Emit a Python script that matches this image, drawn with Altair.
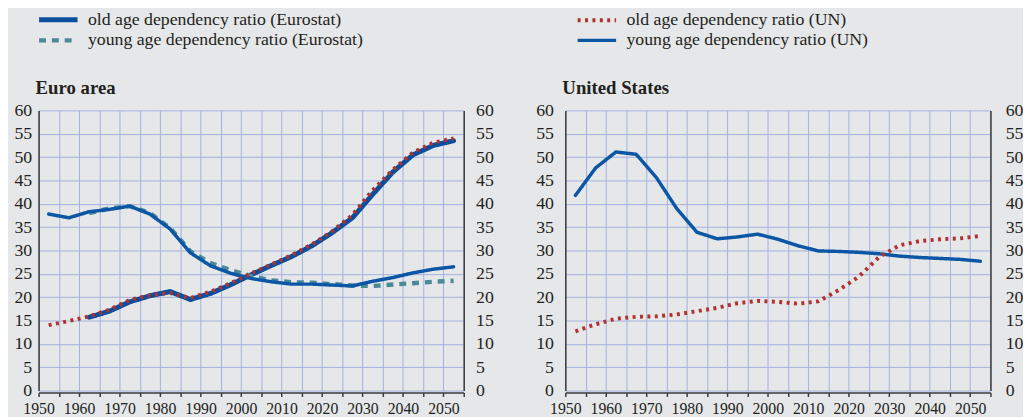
import altair as alt
import pandas as pd

# period mid-points (five-year periods 1950-1955 ... 2050-2055)
years = [1952.5, 1957.5, 1962.5, 1967.5, 1972.5, 1977.5, 1982.5, 1987.5, 1992.5, 1997.5,
         2002.5, 2007.5, 2012.5, 2017.5, 2022.5, 2027.5, 2032.5, 2037.5, 2042.5, 2047.5, 2052.5]

ea_old_eurostat = [None, None, 15.7, 17.0, 19.0, 20.3, 21.2, 19.5, 20.8, 22.7, 24.8, 26.8,
                   28.7, 31.0, 33.8, 37.0, 42.0, 46.8, 50.5, 52.5, 53.5]
ea_old_un = [14.0, 14.9, 15.9, 17.3, 19.4, 20.4, 20.9, 19.8, 21.2, 23.0, 25.1, 27.0,
             29.0, 31.3, 34.1, 37.6, 42.9, 47.3, 51.0, 53.1, 54.0]
ea_young_eurostat = [None, None, 38.0, 39.0, 39.5, 38.0, 34.8, 29.8, 27.3, 25.8, 24.5, 23.6,
                     23.2, 23.1, 22.8, 22.5, 22.4, 22.7, 23.0, 23.3, 23.5]
ea_young_un = [37.8, 37.0, 38.3, 38.8, 39.5, 37.8, 34.6, 29.5, 26.7, 25.1, 24.0, 23.3,
               22.8, 22.8, 22.6, 22.4, 23.4, 24.2, 25.2, 26.0, 26.5]
us_old_un = [12.7, 14.2, 15.4, 15.8, 15.9, 16.3, 17.0, 17.7, 18.7, 19.2, 19.0, 18.6,
             19.1, 21.5, 24.4, 28.6, 31.1, 32.0, 32.4, 32.6, 33.1]
us_young_un = [41.8, 47.7, 51.1, 50.6, 45.6, 39.0, 33.9, 32.5, 32.9, 33.5, 32.4, 31.0,
               29.9, 29.8, 29.6, 29.3, 28.8, 28.5, 28.3, 28.1, 27.7]

S_OLD_E = "old age dependency ratio (Eurostat)"
S_YOUNG_E = "young age dependency ratio (Eurostat)"
S_OLD_UN = "old age dependency ratio (UN)"
S_YOUNG_UN = "young age dependency ratio (UN)"

series_order = [S_OLD_E, S_YOUNG_E, S_OLD_UN, S_YOUNG_UN]
series_colors = ["#0a4f9e", "#4b8996", "#b2302e", "#0b57a6"]
series_dash = [[1, 0], [7, 6], [3, 4.5], [1, 0]]
series_width = [5, 3.5, 3.8, 2.2]

x_ticks = [1950, 1955, 1960, 1965, 1970, 1975, 1980, 1985, 1990, 1995, 2000, 2005,
           2010, 2015, 2020, 2025, 2030, 2035, 2040, 2045, 2050, 2055]
y_ticks = [0, 5, 10, 15, 20, 25, 30, 35, 40, 45, 50, 55, 60]

rows = []
def add(country, series, vals):
    for yr, v in zip(years, vals):
        if v is not None:
            rows.append({"country": country, "series": series, "year": yr, "value": v})

add("Euro area", S_OLD_E, ea_old_eurostat)
add("Euro area", S_YOUNG_E, ea_young_eurostat)
add("Euro area", S_YOUNG_UN, ea_young_un)
add("Euro area", S_OLD_UN, ea_old_un)
add("United States", S_YOUNG_UN, us_young_un)
add("United States", S_OLD_UN, us_old_un)
df = pd.DataFrame(rows)

FONT = "Liberation Serif"
GRID = "#a3b1e0"
DARK = "#3a3a3a"
TXT = "#231f20"

x_scale = alt.Scale(domain=[1950, 2055], nice=False, zero=False)
x_axis = alt.Axis(values=x_ticks, title=None, grid=True, gridColor=GRID,
                  gridWidth=1, gridOpacity=1,
                  labelExpr="datum.value % 10 == 0 && datum.value < 2055 ? datum.label : ''",
                  format="d", labelFont=FONT, labelFontSize=16, labelColor=TXT,
                  labelPadding=4, labelFlush=False, labelOverlap=False,
                  domainColor=DARK, domainWidth=1.5, tickColor=DARK, tickWidth=1.5,
                  tickSize=4, offset=2)
x_enc = alt.X("year:Q", scale=x_scale, axis=x_axis)
y_scale = alt.Scale(domain=[0, 60], nice=False)


def y_left_axis(pad):
    return alt.Axis(values=y_ticks, title=None, orient="left", grid=True, gridColor=GRID,
                    gridWidth=1, gridOpacity=1, ticks=False, labelFont=FONT,
                    labelFontSize=18, labelColor=TXT, labelPadding=pad,
                    domainColor=DARK, domainWidth=1.5)


def y_right_axis(pad):
    return alt.Axis(values=y_ticks, title=None, orient="right", grid=False,
                    ticks=False, labelFont=FONT, labelFontSize=18,
                    labelColor=TXT, labelPadding=pad,
                    domainColor=DARK, domainWidth=1.5)


color_enc = alt.Color("series:N",
                      scale=alt.Scale(domain=series_order, range=series_colors),
                      legend=alt.Legend(orient="none", legendX=11, legendY=-101, columns=2,
                                        values=series_order,
                                        columnPadding=209, rowPadding=2, title=None,
                                        symbolType="M-3.9,0H3.9", symbolSize=100,
                                        labelFont=FONT, labelFontSize=18, labelColor=TXT,
                                        labelOffset=21, labelLimit=400))
dash_enc = alt.StrokeDash("series:N", scale=alt.Scale(domain=series_order, range=series_dash),
                          legend=None)
width_enc = alt.StrokeWidth("series:N", scale=alt.Scale(domain=series_order, range=series_width),
                            legend=None)


def panel(country, lpad, rpad):
    d = df[df["country"] == country]
    layers = []
    for s in [S_OLD_E, S_YOUNG_E, S_YOUNG_UN, S_OLD_UN]:
        sub = d[d["series"] == s]
        if len(sub) == 0:
            continue
        cap = "butt" if s in (S_OLD_UN, S_YOUNG_E) else "round"
        layers.append(
            alt.Chart(sub).mark_line(strokeCap=cap, strokeJoin="round").encode(
                x=x_enc,
                y=alt.Y("value:Q", scale=y_scale, axis=y_left_axis(lpad)),
                color=color_enc,
                strokeDash=dash_enc,
                strokeWidth=width_enc,
            )
        )
    right = alt.Chart(d).mark_line(opacity=0).encode(
        x=x_enc,
        y=alt.Y("value:Q", scale=y_scale, axis=y_right_axis(rpad)),
    )
    main = alt.layer(*layers)
    return alt.layer(main, right).resolve_scale(y="independent").properties(
        width=431, height=284,
        title=alt.TitleParams(country, anchor="start", frame="group", dx=-3, offset=4,
                              font=FONT, fontSize=19, fontWeight="bold", color=TXT),
    )


chart = alt.hconcat(panel("Euro area", 7, 12), panel("United States", 12, 15),
                    spacing=43).properties(
    background="#e6e7e9",
    padding={"left": 6, "top": 0, "right": 0, "bottom": 0},
).configure_view(stroke=None)

chart.save("out.html", embed_options={"renderer": "svg", "actions": False})
